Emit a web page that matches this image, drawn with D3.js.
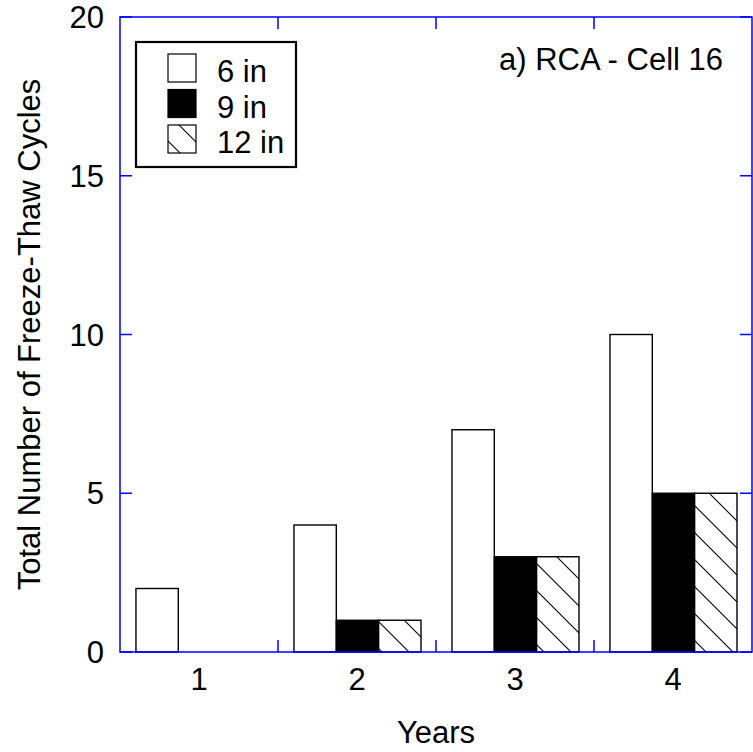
<!DOCTYPE html>
<html>
<head>
<meta charset="utf-8">
<script src="https://cdn.jsdelivr.net/npm/d3@7"></script>
<style>
  body { margin: 0; background: #fff; }
  svg text { font-family: "Liberation Sans", Arial, sans-serif; fill: #000; font-size: 31px; }
</style>
</head>
<body>
<svg id="chart" width="753" height="752"></svg>
<script>
// data
var years = ["1", "2", "3", "4"];
var depths = ["6 in", "9 in", "12 in"];
var in6 = [2, 4, 7, 10];
var in9 = [0, 1, 3, 5];
var in12 = [0, 1, 3, 5];
var yTicks = [0, 5, 10, 15, 20];

var series = [in6, in9, in12];
var fills = ["#fff", "#000", "url(#hatch)"];

var pLeft = 120, pRight = 752, pTop = 17, pBottom = 652;

var svg = d3.select("#chart");

// hatch pattern for 12 in
var pat = svg.append("defs").append("pattern")
    .attr("id", "hatch")
    .attr("patternUnits", "userSpaceOnUse")
    .attr("width", 27).attr("height", 27);
pat.append("rect").attr("width", 27).attr("height", 27).attr("fill", "#fff");
pat.append("path")
    .attr("d", "M-2,-2L29,29M-2,25L2,29M25,-2L29,2")
    .attr("stroke", "#000").attr("stroke-width", 1.1);

var x0 = d3.scaleBand().domain(years).range([pLeft, pRight]);
var x1 = d3.scaleBand().domain(d3.range(depths.length))
    .range([x0.bandwidth() * 0.101, x0.bandwidth() * 0.905]);
var y = d3.scaleLinear().domain([0, 20]).range([pBottom, pTop]);

// bars
var rows = [];
years.forEach(function(yr, i) {
  series.forEach(function(s, j) {
    if (s[i] > 0) rows.push({ yr: yr, j: j, v: s[i] });
  });
});

svg.append("g").selectAll("rect")
  .data(rows)
  .enter().append("rect")
    .attr("x", function(d) { return x0(d.yr) + x1(d.j); })
    .attr("y", function(d) { return y(d.v); })
    .attr("width", x1.bandwidth())
    .attr("height", function(d) { return y(0) - y(d.v); })
    .attr("fill", function(d) { return fills[d.j]; })
    .attr("stroke", "#000")
    .attr("stroke-width", 1.4);

// frame + ticks (blue)
var blue = "#0000ff";
svg.append("rect")
    .attr("x", pLeft).attr("y", pTop)
    .attr("width", pRight - pLeft).attr("height", pBottom - pTop)
    .attr("fill", "none").attr("stroke", blue).attr("stroke-width", 1.5);

var xb = years.slice(1).map(function(d) { return x0(d); });
var tk = svg.append("g").attr("stroke", blue).attr("stroke-width", 1.5);
xb.forEach(function(px) {
  tk.append("line").attr("x1", px).attr("x2", px).attr("y1", pBottom).attr("y2", pBottom - 12);
  tk.append("line").attr("x1", px).attr("x2", px).attr("y1", pTop).attr("y2", pTop + 12);
});
yTicks.forEach(function(v) {
  tk.append("line").attr("x1", pLeft).attr("x2", pLeft + 12).attr("y1", y(v)).attr("y2", y(v));
  tk.append("line").attr("x1", pRight).attr("x2", pRight - 12).attr("y1", y(v)).attr("y2", y(v));
});

// tick labels
svg.append("g").selectAll("text")
  .data(yTicks).enter().append("text")
    .attr("x", 104).attr("y", function(d) { return y(d); })
    .attr("dy", "0.36em")
    .attr("text-anchor", "end")
    .text(function(d) { return d; });

svg.append("g").selectAll("text")
  .data(years).enter().append("text")
    .attr("x", function(d) { return x0(d) + x0.bandwidth() / 2; })
    .attr("y", 690)
    .attr("text-anchor", "middle")
    .text(function(d) { return d; });

// axis titles
svg.append("text")
    .attr("x", 436).attr("y", 743)
    .attr("text-anchor", "middle")
    .text("Years");

svg.append("text")
    .attr("transform", "translate(40," + (pTop + pBottom) / 2 + ") rotate(-90)")
    .attr("text-anchor", "middle")
    .text("Total Number of Freeze-Thaw Cycles");

svg.append("text")
    .attr("x", 723).attr("y", 70)
    .attr("text-anchor", "end")
    .text("a) RCA - Cell 16");

// legend
var lg = svg.append("g");
lg.append("rect")
    .attr("x", 136).attr("y", 42).attr("width", 160).attr("height", 125)
    .attr("fill", "#fff").attr("stroke", "#000").attr("stroke-width", 2.2);
depths.forEach(function(d, j) {
  var ty = 54 + j * 35.5;
  lg.append("rect")
      .attr("x", 168).attr("y", ty).attr("width", 28).attr("height", 28)
      .attr("fill", fills[j]).attr("stroke", "#000").attr("stroke-width", 1.2);
  lg.append("text")
      .attr("x", 217).attr("y", ty + 28)
      .text(d);
});
</script>
</body>
</html>
